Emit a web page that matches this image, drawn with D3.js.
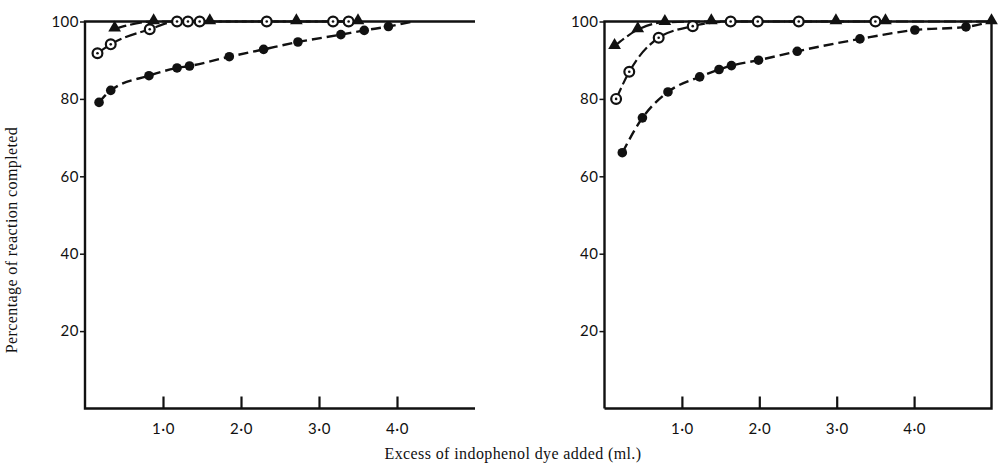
<!DOCTYPE html>
<html>
<head>
<meta charset="utf-8">
<script src="https://cdn.jsdelivr.net/npm/d3@7"></script>
<style>
  body { margin: 0; background: #fff; }
  svg { display: block; }
  .tick text { font-family: Lato, "Open Sans", sans-serif; font-size: 15px; fill: #111; letter-spacing: 0.5px; }
  .title { font-family: "Liberation Serif", "DejaVu Serif", serif; font-size: 16px; fill: #111; letter-spacing: 0.4px; }
</style>
</head>
<body>
<div id="chart"></div>
<script>
// values: [ml excess dye, % completed]
const leftDots = [[0.18, 79.1], [0.33, 82.2], [0.82, 86.0], [1.18, 88.0], [1.34, 88.5], [1.85, 90.9],
  [2.29, 92.8], [2.73, 94.7], [3.28, 96.6], [3.58, 97.7], [3.89, 98.7]];
const leftDotsTail = [4.2, 100];
const leftRings = [[0.16, 91.8], [0.33, 94.1], [0.83, 98.0], [1.18, 100], [1.32, 100], [1.47, 100],
  [2.33, 100], [3.18, 100], [3.38, 100]];
const leftTriangles = [[0.38, 98.1], [0.88, 100], [1.6, 100], [2.71, 100], [3.5, 100]];

const rightDots = [[0.23, 66.1], [0.49, 75.1], [0.82, 81.8], [1.23, 85.7], [1.48, 87.6], [1.64, 88.6],
  [1.99, 90.0], [2.49, 92.3], [3.30, 95.5], [4.01, 97.8], [4.67, 98.6]];
const rightDotsTail = [5.0, 100];
const rightRings = [[0.15, 80.0], [0.32, 87.0], [0.70, 95.8], [1.14, 98.8], [1.63, 100], [1.98, 100],
  [2.51, 100], [3.50, 100]];
const rightTriangles = [[0.13, 93.6], [0.43, 97.9], [0.78, 99.8], [1.38, 100], [2.99, 100], [3.63, 100], [5.0, 100]];

const yTicks = [20, 40, 60, 80, 100];
const xTicks = [1, 2, 3, 4];

const width = 999, height = 467;
const svg = d3.select('#chart').append('svg')
    .attr('width', width)
    .attr('height', height);

const y = d3.scaleLinear().domain([0, 100]).range([408.5, 21.5]);
const fmt = d => d.toFixed(1).replace('.', '\u00b7');

function panel(x0, x1, dots, dotsTail, rings, triangles, boxed) {
    const x = d3.scaleLinear().domain([0, 5]).range([x0, x1]);
    const g = svg.append('g');

    // frame: open on the right for the left panel, closed box for the right one
    const frame = boxed
        ? [[0, 0], [0, 100], [5, 100], [5, 0], [0, 0]]
        : [[5, 100], [0, 100], [0, 0], [5, 0]];
    g.append('path')
        .attr('d', d3.line().x(d => x(d[0])).y(d => y(d[1]))(frame))
        .attr('fill', 'none')
        .attr('stroke', '#111')
        .attr('stroke-width', 2.4);

    // axes
    g.append('g')
        .attr('transform', `translate(${x(0)},0)`)
        .call(d3.axisLeft(y).tickValues(yTicks).tickSize(5).tickPadding(1).tickFormat(d3.format('d')))
        .call(a => a.select('.domain').remove())
        .call(a => a.selectAll('line').attr('stroke', '#111').attr('stroke-width', 1.5));

    g.append('g')
        .attr('transform', `translate(0,${y(0)})`)
        .call(d3.axisBottom(x).tickValues(xTicks).tickSize(-12).tickPadding(15).tickFormat(fmt))
        .call(a => a.select('.domain').remove())
        .call(a => a.selectAll('line').attr('stroke', '#111').attr('stroke-width', 2.2));

    const line = d3.line().curve(d3.curveMonotoneX).x(d => x(d[0])).y(d => y(d[1]));

    // series lines
    g.append('path').attr('d', line(dots.concat([dotsTail])))
        .attr('fill', 'none').attr('stroke', '#111').attr('stroke-width', 2.4)
        .attr('stroke-dasharray', '10,5');
    g.append('path').attr('d', line(rings))
        .attr('fill', 'none').attr('stroke', '#111').attr('stroke-width', 2.2)
        .attr('stroke-dasharray', '12,4');
    g.append('path').attr('d', line(triangles))
        .attr('fill', 'none').attr('stroke', '#111').attr('stroke-width', 2.2)
        .attr('stroke-dasharray', '12,4');

    // markers
    g.selectAll('.dot').data(dots).enter().append('circle')
        .attr('cx', d => x(d[0])).attr('cy', d => y(d[1]))
        .attr('r', 4.8).attr('fill', '#111');

    const ring = g.selectAll('.ring').data(rings).enter().append('g')
        .attr('transform', d => `translate(${x(d[0])},${y(d[1])})`);
    ring.append('circle').attr('r', 4.9).attr('fill', '#fff').attr('stroke', '#111').attr('stroke-width', 2.2);
    ring.append('circle').attr('r', 1.3).attr('fill', '#111');

    g.selectAll('.tri').data(triangles).enter().append('path')
        .attr('d', d3.symbol().type(d3.symbolTriangle).size(70))
        .attr('transform', d => `translate(${x(d[0])},${y(d[1]) - 1})`)
        .attr('fill', '#111');
}

panel(85, 475, leftDots, leftDotsTail, leftRings, leftTriangles, false);
panel(604.5, 991.5, rightDots, rightDotsTail, rightRings, rightTriangles, true);

// axis titles
svg.append('text')
    .attr('class', 'title')
    .attr('transform', 'translate(17,240) rotate(-90)')
    .attr('text-anchor', 'middle')
    .text('Percentage of reaction completed');

svg.append('text')
    .attr('class', 'title')
    .attr('x', 513)
    .attr('y', 459)
    .attr('text-anchor', 'middle')
    .text('Excess of indophenol dye added (ml.)');
</script>
</body>
</html>
